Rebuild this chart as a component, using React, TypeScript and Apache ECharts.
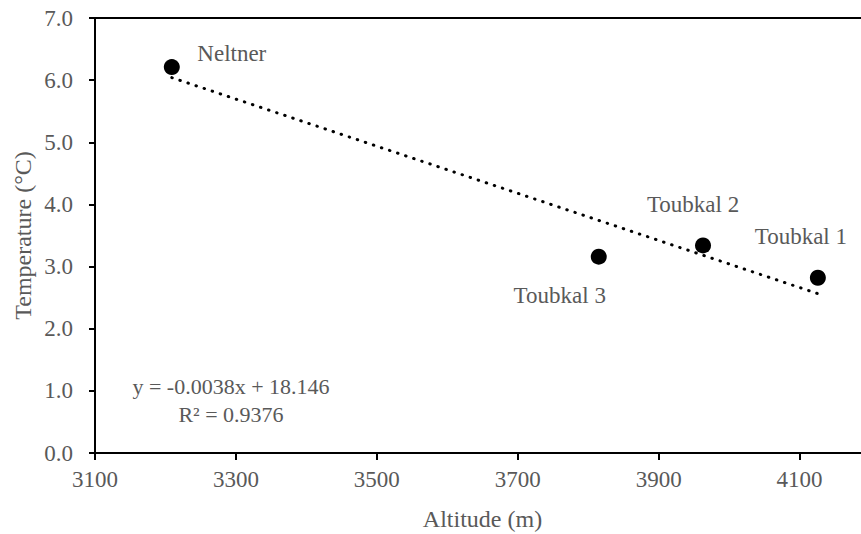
import React, { useEffect, useRef } from "react";
import * as echarts from "echarts";

const stationNames = ["Neltner", "Toubkal 3", "Toubkal 2", "Toubkal 1"];
const altitudes = [3209, 3815, 3963, 4126];
const temperatures = [6.21, 3.16, 3.34, 2.82];
const labelOffsets: [number, number][] = [
  [60, -14],
  [-39, 39],
  [-10, -41],
  [-17, -41],
];
const equationText = "y = -0.0038x + 18.146";
const r2Text = "R² = 0.9376";

function regression(xs: number[], ys: number[]) {
  const n = xs.length;
  const mx = xs.reduce((a, b) => a + b, 0) / n;
  const my = ys.reduce((a, b) => a + b, 0) / n;
  let sxy = 0;
  let sxx = 0;
  for (let i = 0; i < n; i++) {
    sxy += (xs[i] - mx) * (ys[i] - my);
    sxx += (xs[i] - mx) * (xs[i] - mx);
  }
  const slope = sxy / sxx;
  return { slope, intercept: my - slope * mx };
}

const FONT = "Liberation Serif";
const GREY = "#595959";

export default function App() {
  const ref = useRef<HTMLDivElement>(null);
  useEffect(() => {
    if (!ref.current) return;
    const chart = echarts.init(ref.current, undefined, { renderer: "svg" });
    const { slope, intercept } = regression(altitudes, temperatures);
    const xMin = Math.min(...altitudes);
    const xMax = Math.max(...altitudes);
    const trend = [
      [xMin, slope * xMin + intercept],
      [xMax, slope * xMax + intercept],
    ];
    chart.setOption({
      animation: false,
      backgroundColor: "#fff",
      textStyle: { fontFamily: FONT },
      grid: {
        left: 95,
        top: 18,
        width: 775,
        bottom: 81,
        show: true,
        borderColor: "#000",
        borderWidth: 2,
        outerBoundsMode: "none",
        containLabel: false,
      },
      xAxis: {
        type: "value",
        min: 3100,
        max: 4200,
        interval: 200,
        name: "Altitude (m)",
        nameLocation: "middle",
        nameGap: 54,
        nameMoveOverlap: false,
        nameTextStyle: { fontFamily: FONT, fontSize: 24, color: GREY },
        axisLine: { show: true, lineStyle: { color: "#000", width: 2 } },
        axisTick: { show: true, length: 7, lineStyle: { color: "#000", width: 2 } },
        axisLabel: {
          fontFamily: FONT,
          fontSize: 23,
          color: GREY,
          margin: 15,
          showMaxLabel: false,
          formatter: (v: number) => String(v),
        },
        splitLine: { show: false },
      },
      yAxis: {
        type: "value",
        min: 0,
        max: 7,
        interval: 1,
        name: "Temperature (°C)",
        nameLocation: "middle",
        nameGap: 60,
        nameMoveOverlap: false,
        nameTextStyle: { fontFamily: FONT, fontSize: 24, color: GREY },
        axisLine: { show: true, lineStyle: { color: "#000", width: 2 } },
        axisTick: { show: true, length: 6, lineStyle: { color: "#000", width: 2 } },
        axisLabel: {
          fontFamily: FONT,
          fontSize: 23,
          color: GREY,
          margin: 22,
          formatter: (v: number) => v.toFixed(1),
        },
        splitLine: { show: false },
      },
      series: [
        {
          type: "line",
          data: trend,
          symbol: "none",
          lineStyle: { color: "#000", width: 3, type: [0.5, 8], cap: "round" },
          z: 1,
        },
        {
          type: "scatter",
          symbol: "circle",
          symbolSize: 16,
          itemStyle: { color: "#000", opacity: 1 },
          z: 2,
          data: altitudes.map((a, i) => ({
            value: [a, temperatures[i]],
            label: {
              show: true,
              position: "inside",
              offset: labelOffsets[i],
              formatter: stationNames[i],
              fontFamily: FONT,
              fontSize: 23,
              color: GREY,
            },
          })),
        },
      ],
      graphic: [
        {
          type: "text",
          x: 231,
          y: 386,
          style: {
            text: equationText,
            fontFamily: FONT,
            fontSize: 22,
            fill: GREY,
            align: "center",
            verticalAlign: "middle",
          },
        },
        {
          type: "text",
          x: 231,
          y: 414,
          style: {
            text: r2Text,
            fontFamily: FONT,
            fontSize: 22,
            fill: GREY,
            align: "center",
            verticalAlign: "middle",
          },
        },
      ],
    });
    return () => chart.dispose();
  }, []);
  return (
    <div
      ref={ref}
      style={{ position: "absolute", left: 0, top: 0, width: 861, height: 534 }}
    />
  );
}
